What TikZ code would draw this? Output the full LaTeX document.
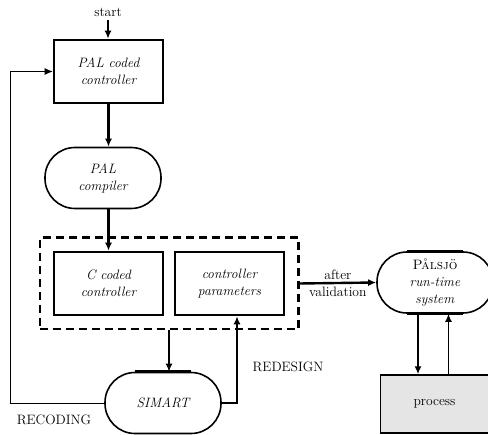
\documentclass[tikz,border=0pt]{standalone}
\usetikzlibrary{arrows.meta,fit}

\definecolor{procgray}{rgb}{0.9,0.9,0.9}
\newcommand{\figfont}{\fontsize{13.6}{17}\selectfont}

\tikzset{
  codebox/.style={draw, line width=2.6pt, minimum width=109pt, minimum height=63pt,
    inner sep=0pt, align=center, font=\figfont\itshape},
  toolbox/.style={draw, line width=1.6pt, rounded corners=30pt, minimum width=116pt,
    minimum height=61pt, inner sep=0pt, align=center},
  group/.style={draw, dashed, dash pattern=on 8pt off 5pt, line width=2.4pt, inner sep=13pt},
  flow/.style={-{Latex[length=8pt,width=7pt]}, line width=2.4pt},
  link/.style={-{Latex[length=8pt,width=7pt]}, line width=1.6pt},
  toolbar/.style={line width=3.2pt},
}

\begin{document}
\begin{tikzpicture}[x=1pt, y=-1pt, font=\figfont]
    \useasboundingbox (0,0) rectangle (488,435);

    % start and PAL coded controller
    \node (start) at (108,12) {start};
    \node[codebox] (pal) at (108.5,71.5) {PAL coded\\controller};
    \draw[flow] (start.south) -- (start.south |- pal.north);

    % PAL compiler
    \node[toolbox, font=\figfont\itshape] (comp) at (103,178) {PAL\\compiler};
    \draw[flow] (pal.south) -- (pal.south |- comp.north);

    % C coded controller and controller parameters
    \node[codebox] (ccode) at (108.5,283.5) {C coded\\controller};
    \node[codebox] (cpar) at (229.5,283.5) {controller\\parameters};
    \node[group, fit=(ccode)(cpar)] (grp) {};
    \draw[flow] (ccode.north |- comp.south) -- (ccode.north);

    % Palsjo run-time system
    \node[toolbox] (pals) at (435,282.5) {\textsc{Pålsjö}\\\textit{run-time}\\\textit{system}};
    \draw[toolbar] ([xshift=31pt]pals.north west) -- ([xshift=-31pt]pals.north east);
    \draw[toolbar] ([xshift=31pt]pals.south west) -- ([xshift=-31pt]pals.south east);
    \draw[flow] (grp.east) -- (pals.west)
        node[midway, above=1pt, inner sep=1pt] (after) {after}
        node[midway, below=2pt, inner sep=1pt] (valid) {validation};

    % process
    \node[draw, fill=procgray, line width=1.4pt, minimum width=108pt, minimum height=58pt] (proc) at (434.5,404) {process};
    \coordinate (down) at ([xshift=-17pt]pals.south);
    \coordinate (up) at ([xshift=14pt]proc.north);
    \draw[link] (down) -- (down |- proc.north);
    \draw[link] (up) -- (up |- pals.south);

    % SIMART
    \node[toolbox, font=\figfont\itshape] (sim) at (163,403) {SIMART};
    \draw[toolbar] ([xshift=31pt]sim.north west) -- ([xshift=-31pt]sim.north east);
    \draw[link] (grp.south -| 169,0) -- (sim.north -| 169,0);

    % redesign loop
    \coordinate (rd) at (cpar.south -| 237,0);
    \draw[link] (sim.east) -| (rd);
    \node (redesign) at (288,367) {REDESIGN};

    % recoding loop
    \draw[-{Latex[length=8pt,width=7pt]}, line width=0.8pt] (sim.west) -| (pal.west -| 10,0) -- (pal.west);
    \node (recoding) at (54,420) {RECODING};
\end{tikzpicture}
\end{document}
